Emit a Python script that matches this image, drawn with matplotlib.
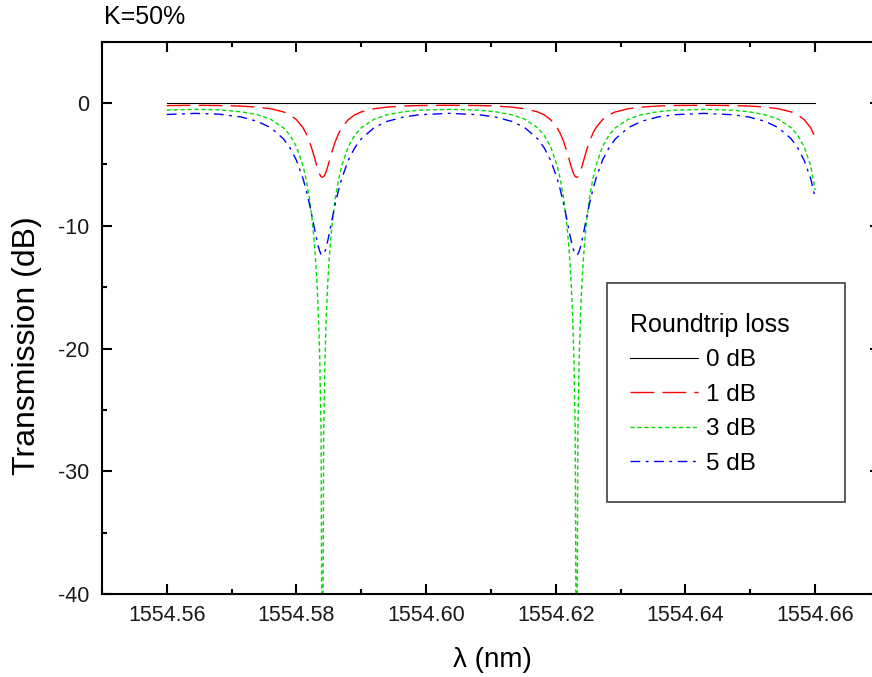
import matplotlib
matplotlib.use('Agg')
import matplotlib.pyplot as plt
from matplotlib.patches import Rectangle
from matplotlib.ticker import MultipleLocator, FormatStrFormatter

plt.rcParams['font.family'] = ['Liberation Sans', 'DejaVu Sans']
plt.rcParams['axes.unicode_minus'] = False

# ---------------- data ----------------
wavelength = [
    1554.5600, 1554.5644, 1554.5680, 1554.5715, 1554.5740, 1554.5760, 1554.5780, 1554.5790,
    1554.5800, 1554.5810, 1554.5815, 1554.5820, 1554.5824, 1554.5827, 1554.5830, 1554.5832,
    1554.5834, 1554.5836, 1554.5838, 1554.5840,
    1554.5842, 1554.5844, 1554.5846, 1554.5848, 1554.5850, 1554.5853, 1554.5856, 1554.5860,
    1554.5865, 1554.5870, 1554.5880, 1554.5890, 1554.5900, 1554.5920, 1554.5940, 1554.5965,
    1554.5990, 1554.6036,
    1554.6082, 1554.6107, 1554.6132, 1554.6152, 1554.6172, 1554.6182, 1554.6192, 1554.6202,
    1554.6207, 1554.6212, 1554.6216, 1554.6219, 1554.6222, 1554.6224, 1554.6226, 1554.6228,
    1554.6230, 1554.6232,
    1554.6234, 1554.6236, 1554.6238, 1554.6240, 1554.6242, 1554.6245, 1554.6248, 1554.6252,
    1554.6257, 1554.6262, 1554.6272, 1554.6282, 1554.6292, 1554.6312, 1554.6332, 1554.6357,
    1554.6382, 1554.6428,
    1554.6473, 1554.6498, 1554.6523, 1554.6543, 1554.6563, 1554.6573, 1554.6583, 1554.6593,
    1554.6600,
]

loss_0db_wavelength = [1554.56, 1554.66]
loss_0db = [0.0, 0.0]

loss_1db = [
    -0.21, -0.18, -0.20, -0.25, -0.33, -0.46, -0.72, -0.96,
    -1.35, -2.00, -2.49, -3.13, -3.76, -4.29, -4.86, -5.22,
    -5.55, -5.82, -5.99, -6.05,
    -5.99, -5.82, -5.55, -5.22, -4.86, -4.29, -3.76, -3.13,
    -2.49, -2.00, -1.35, -0.96, -0.72, -0.46, -0.33, -0.24,
    -0.20, -0.18,
    -0.20, -0.24, -0.33, -0.46, -0.72, -0.96, -1.35, -2.00,
    -2.49, -3.13, -3.76, -4.29, -4.86, -5.22, -5.55, -5.82,
    -5.99, -6.05,
    -5.99, -5.82, -5.55, -5.22, -4.86, -4.29, -3.76, -3.13,
    -2.49, -2.00, -1.35, -0.96, -0.72, -0.46, -0.33, -0.24,
    -0.20, -0.18,
    -0.20, -0.24, -0.33, -0.46, -0.72, -0.96, -1.35, -2.00,
    -2.80,
]

loss_3db = [
    -0.57, -0.51, -0.55, -0.71, -0.95, -1.31, -2.01, -2.62,
    -3.55, -5.08, -6.21, -7.74, -9.39, -11.0, -13.1, -15.0,
    -17.4, -20.9, -26.9, -55.0,
    -26.9, -20.9, -17.4, -15.0, -13.1, -11.0, -9.39, -7.74,
    -6.21, -5.08, -3.55, -2.62, -2.01, -1.31, -0.95, -0.71,
    -0.58, -0.51,
    -0.58, -0.71, -0.95, -1.31, -2.01, -2.62, -3.55, -5.08,
    -6.21, -7.74, -9.39, -11.0, -13.1, -15.0, -17.4, -20.9,
    -26.9, -55.0,
    -26.9, -20.9, -17.4, -15.0, -13.1, -11.0, -9.39, -7.74,
    -6.21, -5.08, -3.55, -2.62, -2.01, -1.31, -0.95, -0.71,
    -0.58, -0.51,
    -0.58, -0.71, -0.95, -1.31, -2.01, -2.62, -3.55, -5.08,
    -7.10,
]

loss_5db = [
    -0.93, -0.84, -0.90, -1.14, -1.49, -2.00, -2.91, -3.64,
    -4.66, -6.13, -7.08, -8.19, -9.20, -10.0, -10.8, -11.29,
    -11.73, -12.08, -12.31, -12.38,
    -12.31, -12.08, -11.73, -11.29, -10.8, -10.0, -9.20, -8.19,
    -7.08, -6.13, -4.66, -3.64, -2.91, -2.00, -1.49, -1.14,
    -0.95, -0.84,
    -0.95, -1.14, -1.49, -2.00, -2.91, -3.64, -4.66, -6.13,
    -7.08, -8.19, -9.20, -10.0, -10.8, -11.29, -11.73, -12.08,
    -12.31, -12.38,
    -12.31, -12.08, -11.73, -11.29, -10.8, -10.0, -9.20, -8.19,
    -7.08, -6.13, -4.66, -3.64, -2.91, -2.00, -1.49, -1.14,
    -0.95, -0.84,
    -0.95, -1.14, -1.49, -2.00, -2.91, -3.64, -4.66, -6.13,
    -7.70,
]

series_labels = ['0 dB', '1 dB', '3 dB', '5 dB']
legend_title = 'Roundtrip loss'
panel_title = 'K=50%'
x_label = 'λ (nm)'
y_label = 'Transmission (dB)'
x_ticks = [1554.56, 1554.58, 1554.60, 1554.62, 1554.64, 1554.66]
y_ticks = [0, -10, -20, -30, -40]

# ---------------- figure ----------------
W, H = 872, 677
fig = plt.figure(figsize=(W / 100, H / 100), dpi=100)
ax_l, ax_r, ax_t, ax_b = 101.9, 880.0, 41.7, 594.0
ax = fig.add_axes([ax_l / W, 1 - ax_b / H, (ax_r - ax_l) / W, (ax_b - ax_t) / H])

ax.plot(loss_0db_wavelength, loss_0db, color='black', lw=0.8, label=series_labels[0])
ax.plot(wavelength, loss_1db, color='#ff0000', lw=1.0, linestyle=(0, (17, 6)), label=series_labels[1])
ax.plot(wavelength, loss_3db, color='#00e000', lw=1.0, linestyle=(0, (3, 2)), label=series_labels[2])
ax.plot(wavelength, loss_5db, color='#0000ff', lw=1.0, linestyle=(0, (7, 4, 2, 4)), label=series_labels[3])

ax.set_xlim(1554.55, 1554.67)
ax.set_ylim(-40, 5)
ax.set_xticks(x_ticks)
ax.set_yticks(y_ticks)
ax.xaxis.set_major_formatter(FormatStrFormatter('%.2f'))
ax.xaxis.set_minor_locator(MultipleLocator(0.01))
ax.yaxis.set_minor_locator(MultipleLocator(5))

for sp in ax.spines.values():
    sp.set_linewidth(1.5)
ax.tick_params(which='both', direction='in', top=True, right=True, width=1.5)
ax.tick_params(which='major', length=7.2, labelsize=15.5, labelcolor='#1a1a1a')
ax.tick_params(which='minor', length=3.6)
ax.tick_params(axis='x', which='major', pad=8)
ax.tick_params(axis='y', which='major', pad=9)

ax.set_xlabel(x_label, fontsize=20)
ax.set_ylabel(y_label, fontsize=23)
ax.xaxis.label.set_va('center')
ax.yaxis.label.set_va('center')
ax.xaxis.set_label_coords((492 - ax_l) / (ax_r - ax_l), -(660 - ax_b) / (ax_b - ax_t))
ax.yaxis.set_label_coords(-(ax_l - 27) / (ax_r - ax_l), (ax_b - 346) / (ax_b - ax_t))

fig.text(104 / W, 1 - 17.5 / H, panel_title, ha='left', va='center', fontsize=18)

# legend frame and legend
fig.add_artist(Rectangle((607 / W, 1 - 502 / H), 238 / W, 219 / H, transform=fig.transFigure,
                         fill=False, edgecolor='#404040', lw=1.2))
leg = ax.legend(title=legend_title, loc='upper left', bbox_to_anchor=(630 / W, 1 - 313 / H),
                bbox_transform=fig.transFigure, frameon=False, fontsize=17.5, title_fontsize=18,
                handlelength=2.8, handletextpad=0.33, labelspacing=0.51, borderpad=0,
                borderaxespad=0, alignment='left')

fig.savefig('out.png', dpi=100)
